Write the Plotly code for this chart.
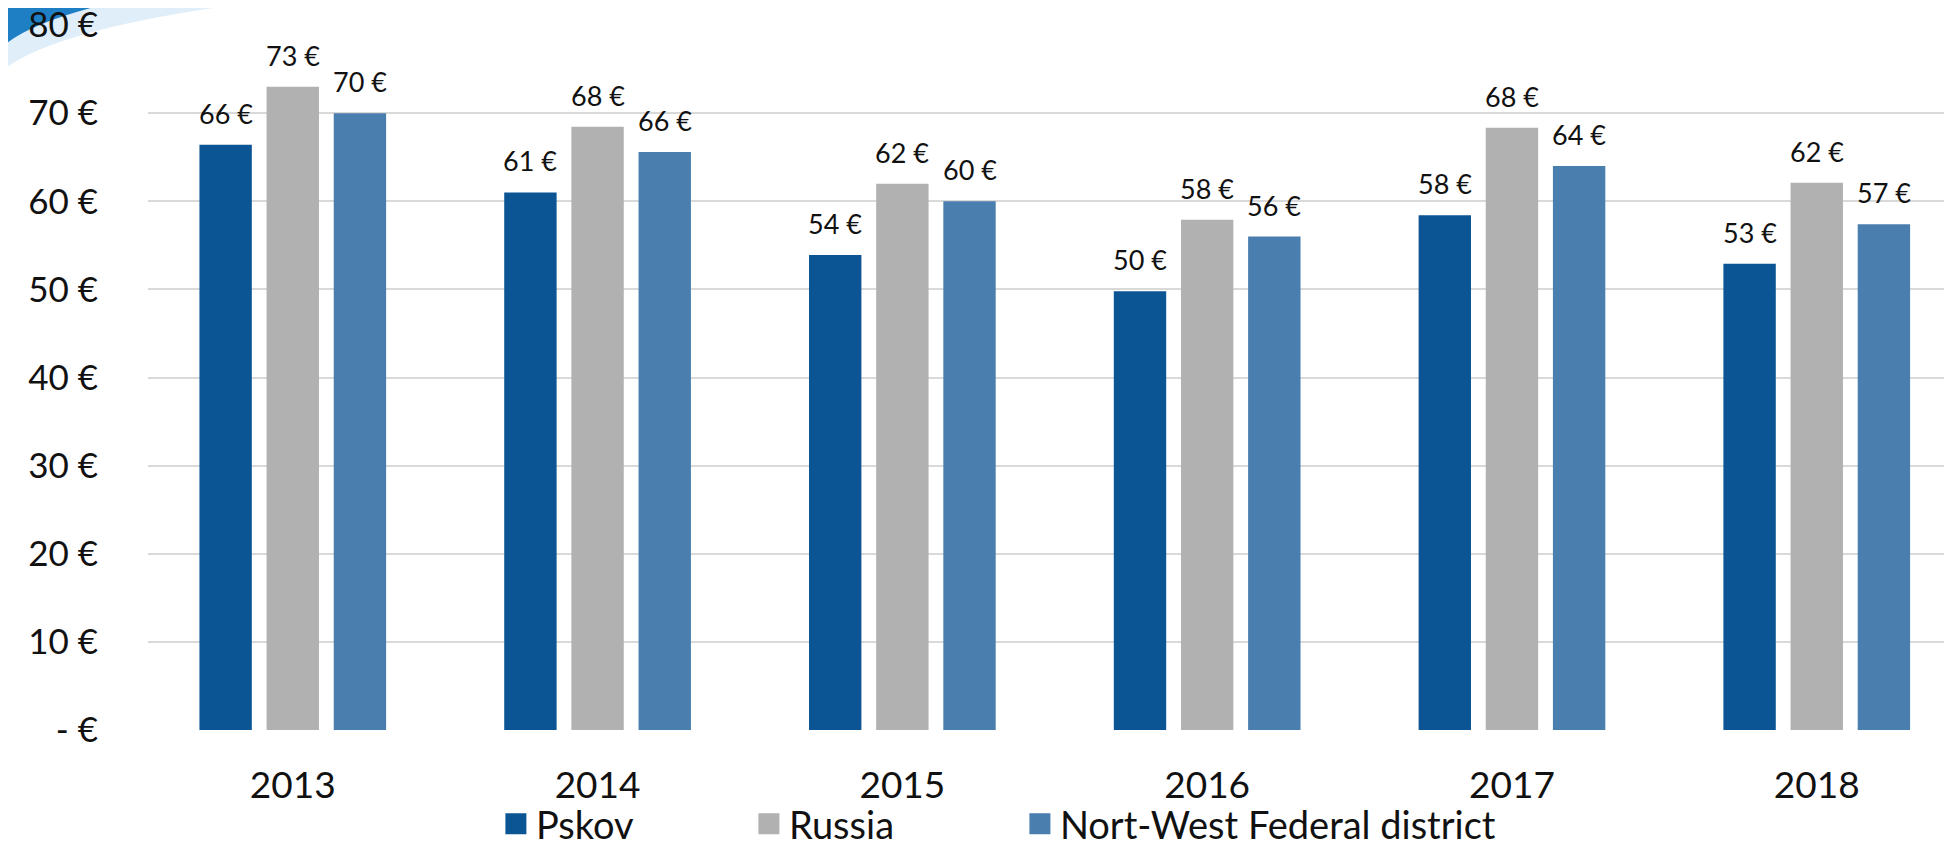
import plotly.graph_objects as go

years = ["2013", "2014", "2015", "2016", "2017", "2018"]
pskov = [66.4, 61.0, 53.9, 49.8, 58.4, 52.9]
russia = [73.0, 68.45, 62.0, 57.9, 68.35, 62.1]
northwest = [70.0, 65.6, 60.0, 56.0, 64.0, 57.4]
series_names = ["Pskov", "Russia", "Nort-West Federal district"]
series_colors = ["#0b5594", "#b1b1b1", "#4a7eaf"]
legend_widths = [208, 226, 480]
ytick_vals = [0, 10, 20, 30, 40, 50, 60, 70, 80]
ytick_text = ["- €", "10 €", "20 €", "30 €", "40 €", "50 €", "60 €", "70 €", "80 €"]

FONT = "Lato"
BARGAP = 0.339
series = [pskov, russia, northwest]

fig = go.Figure()
for name, vals, col in zip(series_names, series, series_colors):
    fig.add_trace(go.Bar(x=years, y=vals, name=name, marker_color=col,
                         marker_line_width=0, showlegend=False, hoverinfo="skip"))
for name, col, lw in zip(series_names, series_colors, legend_widths):
    fig.add_trace(go.Scatter(x=[None], y=[None], mode="markers", name=name,
                             legendwidth=lw,
                             marker=dict(symbol="square", size=16, color=col,
                                         line=dict(color=col, width=5))))

slot = (1 - BARGAP) / 3
annotations = []
for k, vals in enumerate(series):
    for i, v in enumerate(vals):
        annotations.append(dict(x=i + (k - 1) * slot, y=v, xref="x", yref="y",
                                text=f"{round(v)} €", showarrow=False,
                                yanchor="bottom", yshift=13,
                                font=dict(family=FONT, size=27, color="#111111")))

shapes = [
    dict(type="path", xref="paper", yref="paper", layer="below",
         path="M -0.0780,1.0470 L 0.1100,1.0470 Q -0.0400,1.0100 -0.0780,0.9400 Z",
         fillcolor="rgba(150,200,235,0.30)", line_width=0),
    dict(type="path", xref="paper", yref="paper", layer="below",
         path="M -0.0780,1.0470 L 0.0080,1.0470 Q -0.0580,1.0150 -0.0780,0.9740 Z",
         fillcolor="#1f7fc4", line_width=0),
]

fig.update_layout(
    width=1952, height=846,
    margin=dict(l=140, r=0, t=17, b=124, autoexpand=False),
    paper_bgcolor="white", plot_bgcolor="white",
    barmode="group", bargap=BARGAP, bargroupgap=0.22,
    font=dict(family=FONT, color="#111111"),
    annotations=annotations,
    shapes=shapes,
    legend=dict(orientation="h", x=0.1920, xanchor="left", y=-0.1333, yanchor="middle",
                font=dict(family=FONT, size=38, color="#111111"),
                bgcolor="rgba(0,0,0,0)"),
    xaxis=dict(type="category", range=[-0.475, 5.47], showgrid=False, showline=False,
               ticks="", tickfont=dict(family=FONT, size=37, color="#111111"),
               ticklabelstandoff=30),
    yaxis=dict(range=[0, 80], tickvals=ytick_vals, ticktext=ytick_text,
               showgrid=True, gridcolor="#d9d9d9", gridwidth=2, zeroline=False,
               showline=False, ticks="", tickfont=dict(family=FONT, size=35, color="#111111"),
               ticklabelstandoff=49, ticklabeloverflow="allow"),
)

fig.write_html("out.html")
